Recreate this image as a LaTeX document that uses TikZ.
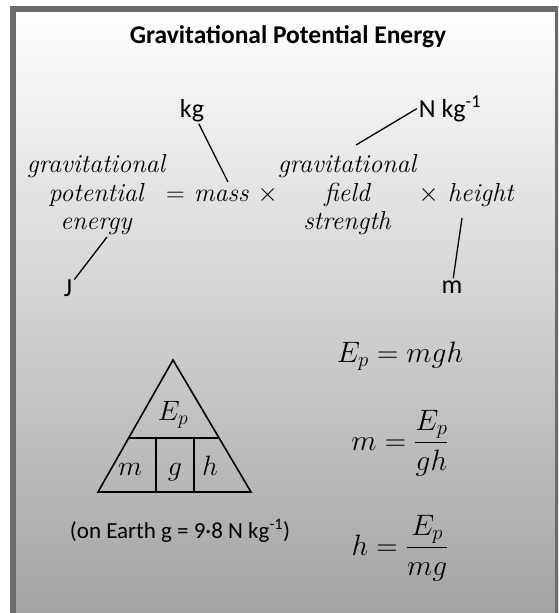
\RequirePackage{fix-cm}
\documentclass[tikz,border=0pt]{standalone}
\usepackage{fontspec}
\usepackage{amsmath}
\usetikzlibrary{positioning}
\newfontfamily\carlito{Carlito}
\definecolor{framegray}{RGB}{107,107,107}
\definecolor{shadebottom}{RGB}{162,162,162}
\tikzset{
  title/.style={anchor=base, font=\carlito\bfseries\fontsize{25.5}{30}\selectfont},
  word/.style={anchor=base, inner sep=1pt, font=\fontsize{26}{30}\selectfont\itshape},
  unit/.style={anchor=base, inner sep=2pt, font=\carlito\fontsize{26}{30}\selectfont},
  unitline/.style={line width=1.3pt},
  triline/.style={line width=1.6pt, line join=miter},
  trilabel/.style={anchor=base, font=\fontsize{28}{32}\selectfont},
  eqn/.style={anchor=base, font=\fontsize{29.5}{34}\selectfont},
  note/.style={anchor=base, font=\carlito\fontsize{23}{27}\selectfont}
}
\begin{document}
\begin{tikzpicture}[x=1pt, y=-1pt]
  \useasboundingbox (0,0) rectangle (558,613);
  \clip (0,0) rectangle (558,613);
  % panel
  \shade[top color=white, bottom color=shadebottom] (13,9) rectangle (558,625);
  \draw[framegray, line width=6pt] (13,9) rectangle (558,625);
  \node[title] (title) at (288,43) {Gravitational Potential Energy};
  % word equation
  \node[word] (gpe1) at (96,172) {gravitational};
  \node[word] (gpe2) at (96,201) {potential};
  \node[word] (gpe3) at (96,229) {energy};
  \node[word] (mass) at (222,201) {$=$ mass $\times$};
  \node[word] (gfs1) at (347,172) {gravitational};
  \node[word] (gfs2) at (347,201) {field};
  \node[word] (gfs3) at (347,229) {strength};
  \node[word] (height) at (466,201) {$\times$ height};
  % units
  \node[unit] (kg) at (192,117) {kg};
  \node[unit] (nkg) at (450,117) {N kg\textsuperscript{-1}};
  \node[unit] (joule) at (68,296) {J};
  \node[unit] (metre) at (452,293) {m};
  \coordinate (kgtip) at (228,182);
  \coordinate (nkgtip) at (356,145);
  \coordinate (jtip) at (107,237);
  \coordinate (mtip) at (462,218);
  \draw[unitline] (kg) -- (kgtip);
  \draw[unitline] (nkg.west) -- (nkgtip);
  \draw[unitline] (joule) -- (jtip);
  \draw[unitline] (metre) -- (mtip);
  % formula triangle
  \draw[triline] (173,360) -- (98,492) -- (251,492) -- cycle;
  \draw[triline] (129,438) -- (218,438);
  \draw[triline] (156,438) -- (156,492);
  \draw[triline] (194,438) -- (194,492);
  \node[trilabel] (tep) at (173,420) {$E_p$};
  \node[trilabel] (tm) at (130,475) {$m$};
  \node[trilabel] (tg) at (175,475) {$g$};
  \node[trilabel] (th) at (210,475) {$h$};
  \node[note] (earth) at (180,538) {(on Earth g = 9·8 N kg\textsuperscript{-1})};
  % rearranged forms
  \node[eqn] (eqep) at (400,362) {$E_p = mgh$};
  \node[eqn] (eqm) at (400,450) {$\displaystyle m = \frac{E_p}{gh}$};
  \node[eqn] (eqh) at (400,555) {$\displaystyle h = \frac{E_p}{mg}$};
\end{tikzpicture}
\end{document}
